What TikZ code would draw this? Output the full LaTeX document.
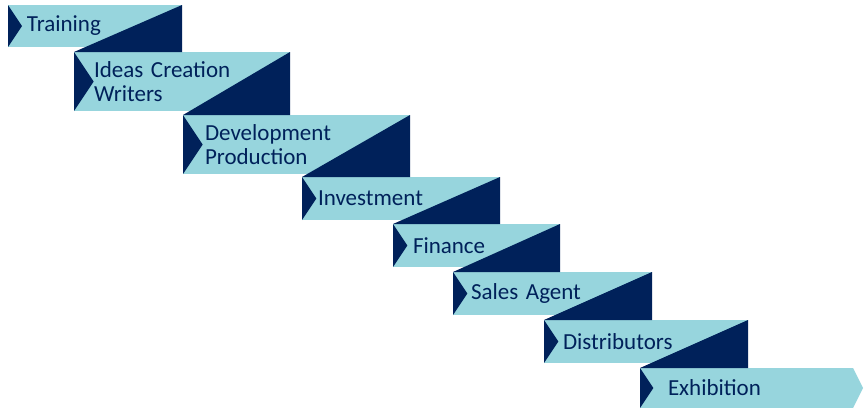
\documentclass[tikz,border=0pt]{standalone}
\usepackage{fontspec}
\setmainfont{Carlito}
\usepackage{tikz}

\definecolor{stepblue}{HTML}{97D5DD}
\definecolor{stepnavy}{HTML}{00215A}

\tikzset{
  stepbox/.style={fill=stepblue, text=stepnavy, anchor=north west, align=left,
    inner ysep=0pt, outer sep=0pt, font=\fontsize{23}{24}\selectfont},
  fold/.style={fill=stepnavy},
}

\begin{document}
\begin{tikzpicture}[x=1pt, y=-1pt]
  \useasboundingbox (0,0) rectangle (864,408);

  % Steps: name / left / top / width / height / indent / text
  \foreach \name/\x/\y/\w/\h/\ind/\txt in {
      s1/8/5/174/42/19/Training,
      s2/74/52/216/59/20/{Ideas Creation\\Writers},
      s3/183/115/227/59/22/{Development\\Production},
      s4/302/177/198/43/16/Investment,
      s5/393/224/167/43/20/Finance,
      s6/453/272/199/43/18/Sales Agent,
      s7/544/320/204/43/19/Distributors,
      s8/640/368/213/40/28/Exhibition}
  {
    \pgfmathsetmacro{\tw}{\w-2*\ind}
    \pgfmathsetmacro{\nw}{\h/3}
    \node[stepbox, inner xsep=\ind pt, text width=\tw pt, minimum height=\h pt]
      (\name) at (\x,\y) {\txt};
    % notch on the left side
    \fill[fold] (\name.north west) -- (\name.south west)
      -- ([xshift=\nw pt]\name.west) -- cycle;
  }

  % Folds down to the next step
  \foreach \a/\b in {s1/s2, s2/s3, s3/s4, s4/s5, s5/s6, s6/s7, s7/s8}
    \fill[fold] (\a.north east) -- (\a.east |- \b.north) -- (\b.north west) -- cycle;

  % Arrow tip of the last step
  \fill[stepblue] (s8.north east) -- ([xshift=10pt]s8.east) -- (s8.south east) -- cycle;
\end{tikzpicture}
\end{document}
